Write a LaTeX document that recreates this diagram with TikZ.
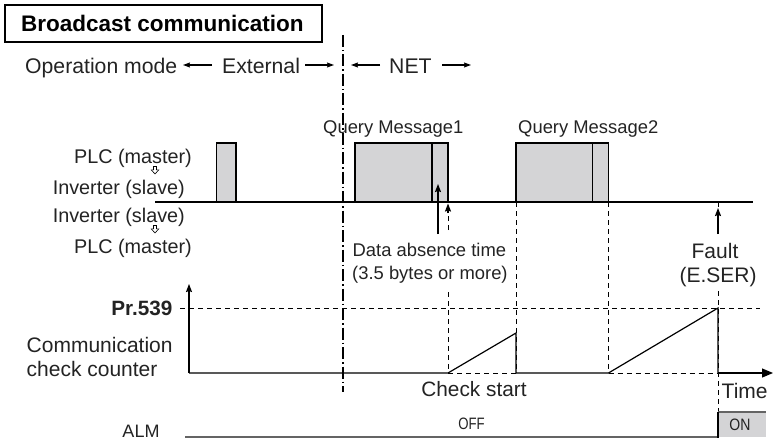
\documentclass[tikz,border=0pt]{standalone}
\usepackage{fontspec}
\usepackage{graphicx}
\setmainfont{Liberation Sans}
\usetikzlibrary{arrows.meta}
\definecolor{boxgray}{RGB}{212,212,214}
\definecolor{almgray}{RGB}{100,100,100}
\definecolor{txtcol}{RGB}{35,35,35}
\newcommand{\myfs}[1]{\fontsize{#1}{#1}\selectfont}
\begin{document}
\begin{tikzpicture}[x=1pt,y=-1pt,
  txt/.style={inner sep=0pt, text depth=0pt, text=txtcol},
  fz/.style={txt, font=\myfs{#1}, text height=#1*0.716pt},
  fzb/.style={txt, font=\bfseries\myfs{#1}, text height=#1*0.716pt},
  ln/.style={line width=1.2pt},
  dsh/.style={line width=1pt, dash pattern=on 5pt off 4pt},
  dashdot/.style={line width=1.2pt, dash pattern=on 12pt off 3pt on 1.5pt off 3pt},
  opar/.style={line width=1.1pt, -{Stealth[length=7pt,width=5pt,inset=1pt]}},
  uparr/.style={line width=1.2pt, -{Stealth[length=8pt,width=6pt,inset=1pt]}},
  sig/.style={ln, fill=boxgray},
  dnarr/.style={line width=0.6pt, fill=white}
]
\useasboundingbox (0,0) rectangle (773,441);

% title
\draw[line width=2pt] (5,5) rectangle (322,42);
\node[fzb=22.5, anchor=west, text=black] (title) at (21,23.5) {Broadcast communication};

% operation mode row
\node[fz=21.2, anchor=west] (opm) at (25,66) {Operation mode};
\node[fz=21.2, anchor=west] (ext) at (222,66) {External};
\node[fz=21.2, anchor=west] (net) at (389,66) {NET};
\coordinate (a1s) at (212,65); \coordinate (a1e) at (183,65);
\coordinate (a2s) at (305,65); \coordinate (a2e) at (334,65);
\coordinate (a3s) at (380,65); \coordinate (a3e) at (351,65);
\coordinate (a4s) at (442,65); \coordinate (a4e) at (471,65);
\draw[opar] (a1s) -- (a1e);
\draw[opar] (a2s) -- (a2e);
\draw[opar] (a3s) -- (a3e);
\draw[opar] (a4s) -- (a4e);

% mode change line
\coordinate (mtop) at (343,35); \coordinate (mbot) at (343,392);
\draw[dashdot] (mtop) -- (mbot);

% left labels
\node[fz=19.8, anchor=east] (plc1) at (192,156) {PLC (master)};
\node[fz=19.8, anchor=east] (inv1) at (185,187) {Inverter (slave)};
\node[fz=19.8, anchor=east] (inv2) at (185,215) {Inverter (slave)};
\node[fz=19.8, anchor=east] (plc2) at (192,246) {PLC (master)};
\draw[dnarr] (153.5,166.5) -- (156.5,166.5) -- (156.5,169.8) -- (158.8,169.8) -- (155,174) -- (151.2,169.8) -- (153.5,169.8) -- cycle;
\draw[dnarr] (153.5,225.5) -- (156.5,225.5) -- (156.5,228.8) -- (158.8,228.8) -- (155,233) -- (151.2,228.8) -- (153.5,228.8) -- cycle;

% signal line and messages
\draw[ln] (155,202) -- (753,202);
\draw[sig] (216.5,202) rectangle (236,143);
\draw[sig] (355,202) rectangle (448,143);
\draw[ln] (432,143) -- (432,202);
\draw[sig] (516,202) rectangle (608.5,143);
\draw[ln] (592.5,143) -- (592.5,202);
\node[fz=18.4, anchor=west] (q1) at (323,127) {Query Message1};
\node[fz=18.4, anchor=west] (q2) at (518,127) {Query Message2};

% data absence
\node[fz=18.4, anchor=west] (da1) at (352.5,250) {Data absence time};
\node[fz=18.4, anchor=west] (da2) at (352,273) {(3.5 bytes or more)};
\draw[uparr] (438,234) -- (438,184);
\draw[dsh] (448,230) -- (448,212);
\draw[uparr] (448,213) -- (448,203.5);

% fault
\node[fz=21] (fault) at (715,251) {Fault};
\node[fz=21] (eser) at (718,275) {(E.SER)};
\draw[dsh] (718,202) -- (718,210);
\draw[uparr] (718,234) -- (718,208);

% dashed verticals
\draw[dsh] (448,292) -- (448,373);
\draw[dsh] (516,202) -- (516,373);
\draw[dsh] (608.5,202) -- (608.5,373);
\draw[dsh] (718,291) -- (718,412);

% counter
\node[fzb=20.7, anchor=east] (pr) at (172.5,308) {Pr.539};
\node[fz=21, anchor=west] (cc1) at (26.5,345) {Communication};
\node[fz=21, anchor=west] (cc2) at (26.5,369) {check counter};
\coordinate (org) at (189,373);
\draw[uparr] (org) -- (189,284);
\draw[dsh] (180,308) -- (760,308);
\draw[ln] (org) -- (448,373) -- (516,333) -- (516,373) -- (608.5,373) -- (718,308) -- (718,373);
\draw[dsh] (448,373) -- (516,373);
\draw[dsh] (608.5,373) -- (718,373);
\draw[ln, -{Triangle[length=11pt,width=9pt]}] (718,373) -- (773,373);
\node[fz=20.8] (cs) at (474,389) {Check start};
\node[fz=21, anchor=west] (time) at (721.5,391) {Time};

% ALM
\node[fz=18] (alm) at (141,431) {ALM};
\draw[line width=2.2pt, almgray] (185,437) -- (718,437);
\fill[boxgray] (718,412) rectangle (766,437);
\draw[line width=1.2pt, almgray] (718,412) -- (766,412);
\draw[line width=1.1pt] (718,412) -- (718,437.5);
\node[fz=16.5] (off) at (471.5,424) {\scalebox{0.8}[1]{OFF}};
\node[fz=16.5] (on) at (740,425) {\scalebox{0.85}[1]{ON}};
\end{tikzpicture}
\end{document}
